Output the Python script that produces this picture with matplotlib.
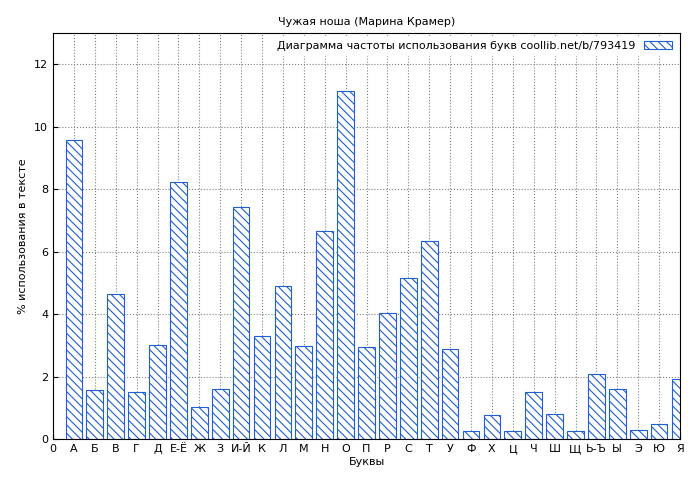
import matplotlib
matplotlib.use("Agg")
import matplotlib.pyplot as plt

labels = ["0","А","Б","В","Г","Д","Е-Ё","Ж","З","И-Й","К","Л","М","Н","О","П","Р","С","Т","У","Ф","Х","Ц","Ч","Ш","Щ","Ь-Ъ","Ы","Э","Ю","Я"]
letters = labels[1:]
values = [9.57,1.57,4.64,1.5,3.0,8.22,1.02,1.6,7.42,3.3,4.9,2.98,6.66,11.14,2.94,4.03,5.15,6.34,2.88,0.26,0.77,0.26,1.5,0.8,0.26,2.08,1.6,0.29,0.48,1.92]

plt.rcParams['hatch.color'] = '#1f5fd0'
plt.rcParams['hatch.linewidth'] = 0.8
fig = plt.figure(figsize=(7, 4.8), dpi=100)
ax = fig.add_axes([53/700, 41/480, 627/700, 406/480])
x = list(range(1, len(letters) + 1))
ax.bar(x, values, width=0.8, facecolor='white', edgecolor='#1f5fd0', hatch='\\\\\\\\', linewidth=0.8,
       label='Диаграмма частоты использования букв coollib.net/b/793419')
ax.set_xlim(0, 30)
ax.set_ylim(0, 13)
ax.set_xticks(range(len(labels)))
ax.set_xticklabels(labels, fontsize=8)
ax.set_yticks(range(0, 13, 2))
ax.tick_params(labelsize=8, direction='in')
ax.grid(True, linestyle=':', color='gray', linewidth=0.8)
ax.set_axisbelow(True)
ax.set_xlabel('Буквы', fontsize=8, labelpad=2)
ax.set_ylabel('% использования в тексте', fontsize=8)
ax.set_title('Чужая ноша (Марина Крамер)', fontsize=8)
leg = ax.legend(loc='upper right', fontsize=8, frameon=True, fancybox=False, framealpha=1,
                edgecolor='white', borderaxespad=0.3, handlelength=2.5, markerfirst=False)
fig.savefig('out.png', dpi=100)
